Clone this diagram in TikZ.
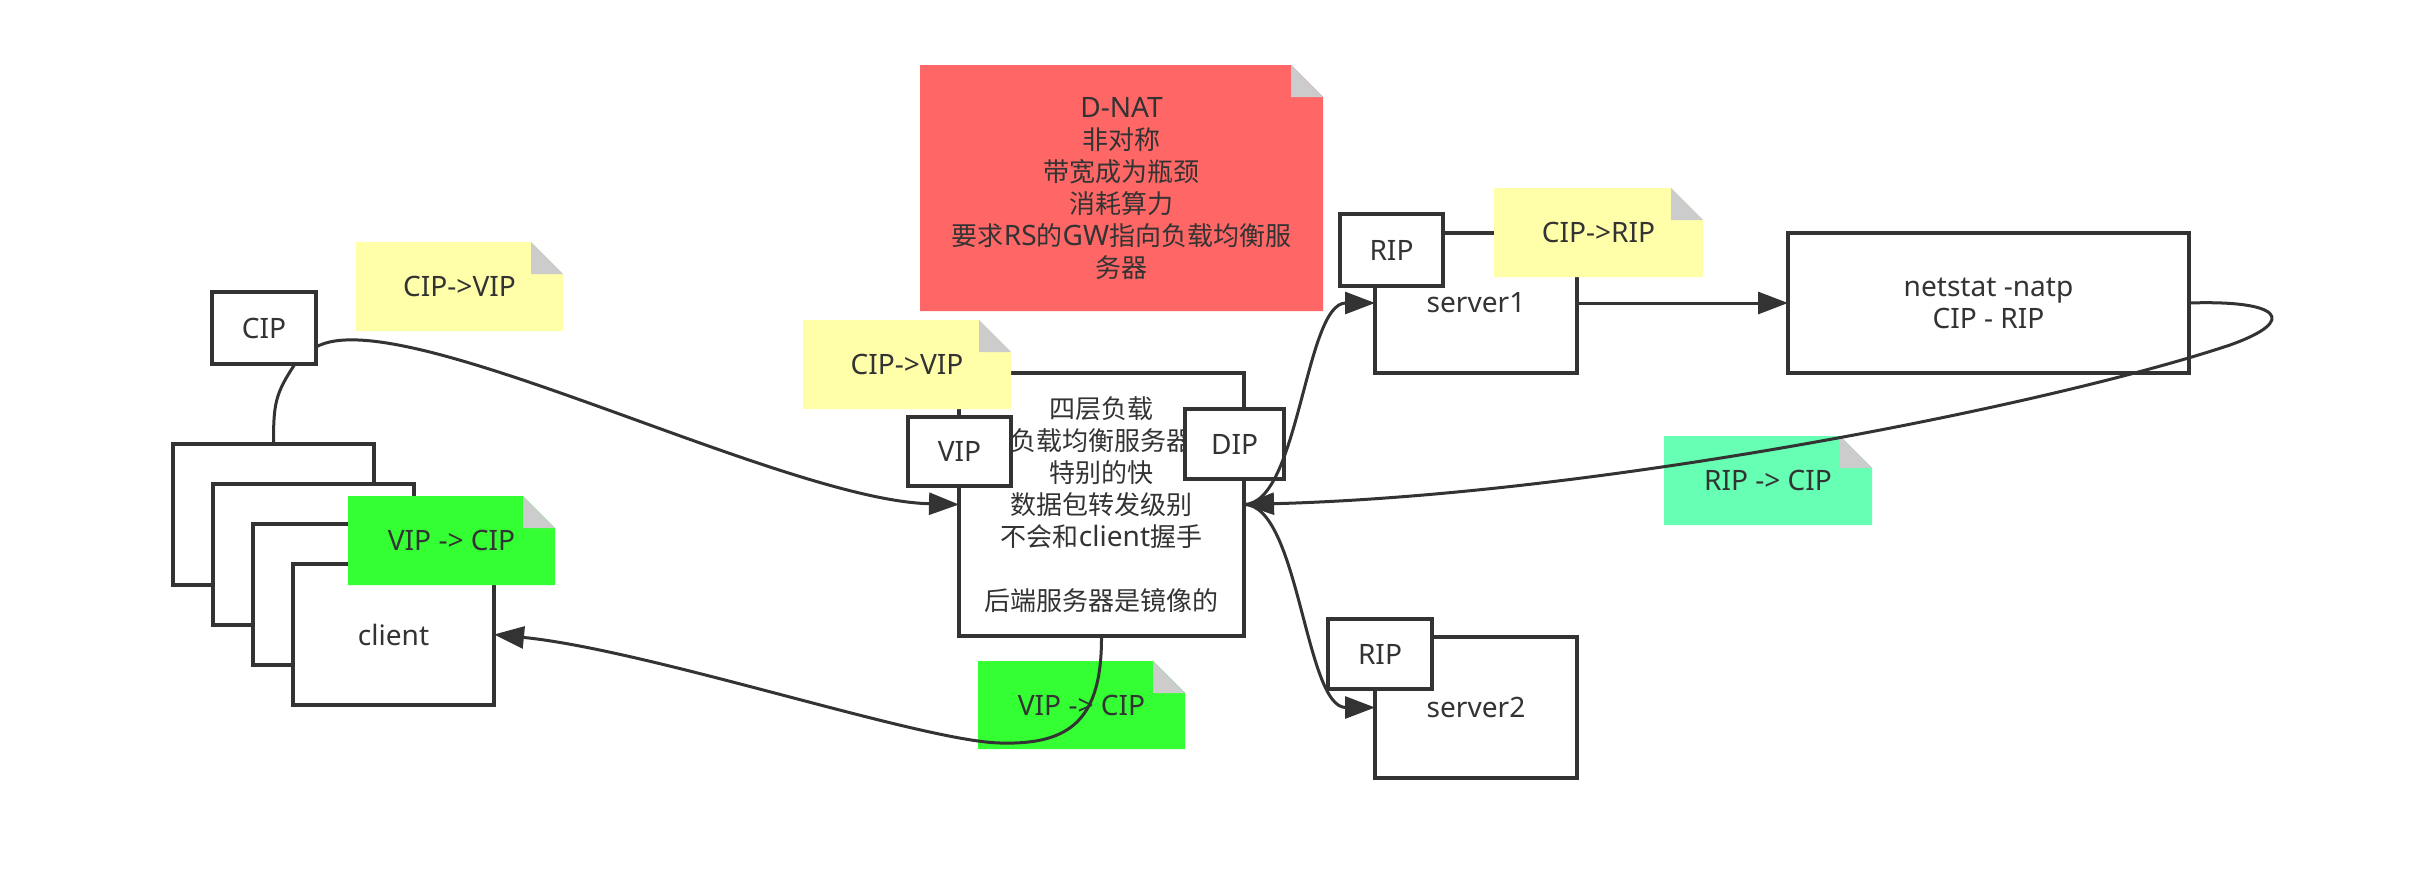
\documentclass[tikz,border=0pt]{standalone}
\usepackage{fontspec}
\setmainfont{Noto Sans}[Scale=1.08]
\newfontfamily\cjk{Noto Sans CJK SC}
\usetikzlibrary{arrows.meta}
\definecolor{ink}{HTML}{333333}
\definecolor{noteyellow}{HTML}{FFFFAA}
\definecolor{notered}{HTML}{FF6666}
\definecolor{notegreen}{HTML}{33FF33}
\definecolor{notemint}{HTML}{66FFB3}
\definecolor{foldgray}{HTML}{CCCCCC}
\newcommand{\stickynote}[7]{%
  \fill[#5] (#1,#2) -- ({#3-32},#2) -- (#3,{#2+32}) -- (#3,#4) -- (#1,#4) -- cycle;
  \fill[foldgray] ({#3-32},#2) -- ({#3-32},{#2+32}) -- (#3,{#2+32}) -- cycle;
  \node[notetext] (#6) at ({(#1+#3)/2},{(#2+#4)/2}) {#7};}
\begin{document}
\begin{tikzpicture}[x=1pt,y=-1pt,
  box/.style={draw=ink,line width=3.5pt,fill=white,inner sep=0pt,outer sep=0pt,
    text=ink,font=\fontsize{26}{32}\selectfont,align=center},
  notetext/.style={text=ink,font=\fontsize{26}{32}\selectfont,align=center,inner sep=0pt},
  conn/.style={draw=ink,line width=3pt},
  arr/.style={conn,-{Triangle[length=30pt,width=22pt]}}]
\fill[white] (0,0) rectangle (2420,881);
\useasboundingbox (0,0) rectangle (2420,881);

% client stack
\node[box,minimum width=201pt,minimum height=141pt] (c1) at (273.5,514.5) {};
\node[box,minimum width=201pt,minimum height=141pt] (c2) at (313.5,554.5) {};
\node[box,minimum width=201pt,minimum height=141pt] (c3) at (353.5,594.5) {};
\node[box,minimum width=201pt,minimum height=141pt] (client) at (393.5,634.5) {client};
\node[box,minimum width=104pt,minimum height=72pt] (cip) at (264,328) {CIP};

% load balancer
\node[box,minimum width=285pt,minimum height=263pt] (lb) at (1101.5,504.5)
  {{\cjk 四层负载}\\{\cjk 负载均衡服务器}\\{\cjk 特别的快}\\{\cjk 数据包转发级别}\\{\cjk 不会和}client{\cjk 握手}\\ \\{\cjk 后端服务器是镜像的}};
\node[box,minimum width=103pt,minimum height=69pt] (vip) at (959.5,451.5) {VIP};
\node[box,minimum width=99pt,minimum height=70pt] (dip) at (1234.5,444) {DIP};

% servers
\node[box,minimum width=202pt,minimum height=140pt] (server1) at (1476,303) {server1};
\node[box,minimum width=103pt,minimum height=72pt] (rip1) at (1391.5,250) {RIP};
\node[box,minimum width=202pt,minimum height=141pt] (server2) at (1476,707.5) {server2};
\node[box,minimum width=104pt,minimum height=70pt] (rip2) at (1380,654) {RIP};
\node[box,minimum width=401pt,minimum height=140pt] (netstat) at (1988.5,303) {netstat -natp\\CIP - RIP};

% notes
\stickynote{356}{242}{563}{331}{noteyellow}{n1}{CIP->VIP}
\stickynote{348}{496}{555}{585}{notegreen}{n2}{VIP -> CIP}
\stickynote{803}{320}{1011}{409}{noteyellow}{n3}{CIP->VIP}
\stickynote{920}{65}{1323}{311}{notered}{n4}{D-NAT\\{\cjk 非对称}\\{\cjk 带宽成为瓶颈}\\{\cjk 消耗算力}\\{\cjk 要求}RS{\cjk 的}GW{\cjk 指向负载均衡服}\\{\cjk 务器}}
\stickynote{978}{661}{1185}{749}{notegreen}{n5}{VIP -> CIP}
\stickynote{1494}{188}{1703}{277}{noteyellow}{n6}{CIP->RIP}
\stickynote{1664}{436}{1872}{525}{notemint}{n7}{RIP -> CIP}

% connectors
\draw[conn] ([xshift=31pt]cip.south) .. controls +(-20,30) and +(0,-40) .. (c1.north);
\draw[arr] ([yshift=-19pt]cip.east) .. controls (400,300) and (780,500) .. (lb.west);
\draw[arr] (lb.south) .. controls (1102,720) and (1070,745) .. (1000,743)
  .. controls (920,741) and (650,650) .. (client.east);
\draw[arr] (lb.east) .. controls +(55,0) and +(-70,0) .. (server1.west);
\draw[arr] (lb.east) .. controls +(55,0) and +(-70,0) .. (server2.west);
\draw[arr] (server1.east) -- (netstat.west);
\draw[arr] (netstat.east) .. controls (2280,300) and (2300,320) .. (2230,345)
  .. controls (2050,405) and (1600,495) .. (lb.east);
\end{tikzpicture}
\end{document}
